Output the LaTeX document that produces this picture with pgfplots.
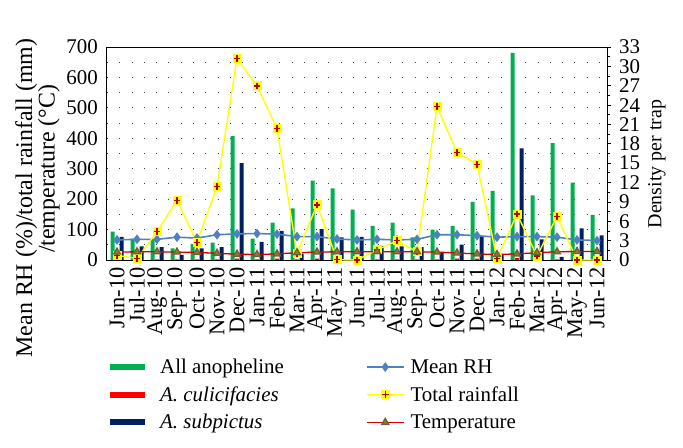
\documentclass[border=0pt]{standalone}
\usepackage{fontspec}
\setmainfont{Liberation Serif}
\usepackage{pgfplots}
\usepackage{pgfplotstable}
\pgfplotsset{compat=1.18}

\definecolor{anogreen}{RGB}{0,176,80}
\definecolor{culred}{RGB}{255,0,0}
\definecolor{subblue}{RGB}{0,32,96}
\definecolor{rhblue}{RGB}{79,129,189}
\definecolor{rainyel}{RGB}{255,255,0}
\definecolor{plusred}{RGB}{192,0,0}
\definecolor{tempred}{RGB}{210,0,0}
\definecolor{triolive}{RGB}{140,122,60}

% yellow square with a red plus, as the rainfall marker
\pgfdeclareplotmark{sqplus}{%
  \pgfpathrectangle{\pgfqpoint{-\pgfplotmarksize}{-\pgfplotmarksize}}{\pgfqpoint{2\pgfplotmarksize}{2\pgfplotmarksize}}%
  \pgfsetfillcolor{rainyel}\pgfusepath{fill}%
  \pgfpathmoveto{\pgfqpoint{-0.75\pgfplotmarksize}{0pt}}\pgfpathlineto{\pgfqpoint{0.75\pgfplotmarksize}{0pt}}%
  \pgfpathmoveto{\pgfqpoint{0pt}{-0.75\pgfplotmarksize}}\pgfpathlineto{\pgfqpoint{0pt}{0.75\pgfplotmarksize}}%
  \pgfsetstrokecolor{plusred}\pgfsetlinewidth{1.3pt}\pgfusepath{stroke}}

% idx, all anopheline, A. culicifacies, A. subpictus (per trap), RH, rainfall, temperature
\pgfplotstableread{
idx all  cul sub  rh rain temp
0   4.4  0.2 3.6  66 15   26
1   3.3  0.1 2.1  68 5    27
2   3.1  0.1 2.0  68 93   27
3   1.8  0.1 0.8  75 195  26
4   2.5  0.1 1.8  72 58   25
5   2.7  0.1 2.0  83 241  22
6   19.2 0.2 15.0 86 662  19
7   3.3  0.1 2.8  87 572  18
8   5.8  0.2 4.5  85 432  20
9   8.0  0.1 1.0  77 22   24
10  12.3 0.2 4.8  77 181  26
11  11.1 0.1 3.5  69 1    27
12  7.8  0.1 3.6  66 0    27
13  5.3  0.1 2.2  68 33   27
14  5.8  0.1 2.1  66 63   27
15  3.5  0.1 2.0  68 27   27
16  4.7  0.1 1.1  83 505  26
17  5.3  0.2 2.4  83 353  23
18  9.0  0.2 3.7  80 315  20
19  10.7 0.1 0.8  75 5    18
20  32.1 0.3 17.3 77 151  20
21  10.0 0.2 3.2  77 13   24
22  18.1 0.1 0.5  75 143  27
23  12.0 0.3 4.9  66 0    28
24  7.0  0.2 3.8  64 0    28
}\datatab

\begin{document}
\begin{tikzpicture}[font=\rmfamily\fontsize{21}{25}\selectfont]
\pgfplotsset{base/.style={scale only axis, width=500bp, height=213bp,
  xmin=-0.5, xmax=24.5, at={(0,0)}, anchor=south west,
  /pgf/number format/assume math mode=true}}

% left axis: frame, grid, month labels
\begin{axis}[base,
  ymin=0, ymax=700,
  ytick={0,100,...,700}, minor ytick={50,150,...,650},
  ymajorgrids, yminorgrids,
  major grid style={black!75, line width=0.9bp, dash pattern=on 1bp off 11.3bp},
  minor grid style={black!75, line width=0.9bp, dash pattern=on 1bp off 11.3bp},
  ytick pos=left, xtick pos=bottom,
  ytick style={draw=none}, xtick style={draw=none},
  xtick={0,...,24},
  xticklabels={Jun-10,Jul-10,Aug-10,Sep-10,Oct-10,Nov-10,Dec-10,Jan-11,Feb-11,Mar-11,Apr-11,May-11,Jun-11,Jul-11,Aug-11,Sep-11,Oct-11,Nov-11,Dec-11,Jan-12,Feb-12,Mar-12,Apr-12,May-12,Jun-12},
  xticklabel style={rotate=90, anchor=east, inner sep=1bp, xshift=-6bp, font=\fontsize{22.5}{25}\selectfont},
  yticklabel style={inner sep=1bp, xshift=-8bp},
  axis line style={black, line width=1bp},
  ylabel={Mean RH (\%)/total rainfall (mm)\\/temperature (°C)\rule{46bp}{0pt}},
  ylabel style={align=right, at={(axis description cs:-0.184,1.04)}, anchor=north east, inner sep=0pt,
    font=\fontsize{24}{21}\selectfont},
]
\coordinate (SW) at (rel axis cs:0,0);
\end{axis}

% right axis: mosquito densities
\begin{axis}[base,
  ymin=0, ymax=33, ytick={0,3,...,33}, minor tick num=1,
  axis y line*=right, axis x line=none,
  tick align=outside, ytick style={black, line width=0.8bp},
  major tick length=4bp, minor tick length=3bp,
  yticklabel style={inner sep=1bp, xshift=7bp},
  axis line style={black, line width=1bp},
  ylabel={Density per trap},
  ylabel style={at={(axis description cs:1.10,0.45)}, anchor=center, rotate=0,
    font=\fontsize{20}{24}\selectfont},
]
\addplot[ybar, bar width=4bp, bar shift=-4.5bp, fill=anogreen, draw=none] table[x=idx, y=all] {\datatab};
\addplot[ybar, bar width=4bp, bar shift=0bp, fill=culred, draw=none] table[x=idx, y=cul] {\datatab};
\addplot[ybar, bar width=4bp, bar shift=4.5bp, fill=subblue, draw=none] table[x=idx, y=sub] {\datatab};
\end{axis}

% weather lines and the legend
\begin{axis}[base, hide axis,
  ymin=0, ymax=700,
  legend columns=2,
  legend cell align=left,
  legend style={at={(axis description cs:0,-0.455)}, anchor=north west, draw=none, fill=none,
    inner sep=0pt, row sep=7.5bp, font=\fontsize{21}{25}\selectfont,
    nodes={inner sep=2bp},
    /tikz/column 1/.style={column sep=10bp},
    /tikz/column 2/.style={column sep=80bp},
    /tikz/column 3/.style={column sep=4bp}},
  legend image code/.code={\draw[mark repeat=2, mark phase=2, #1] plot coordinates {(0bp,0bp) (18.5bp,0bp) (37bp,0bp)};},
]
\addlegendimage{legend image code/.code={\draw[line width=6bp, anogreen] (0bp,0bp) -- (35bp,0bp);}}
\addlegendentry{All anopheline}
\addplot[rhblue, line width=1.6bp, mark=diamond*, mark size=3.6bp, mark options={fill=rhblue, draw=rhblue}] table[x=idx, y=rh] {\datatab};
\addlegendentry{Mean RH}
\addlegendimage{legend image code/.code={\draw[line width=6bp, culred] (0bp,0bp) -- (35bp,0bp);}}
\addlegendentry{\textit{A. culicifacies}}
\addplot[rainyel, line width=1.4bp, mark=sqplus, mark size=4.5bp] table[x=idx, y=rain] {\datatab};
\addlegendentry{Total rainfall}
\addlegendimage{legend image code/.code={\draw[line width=6bp, subblue] (0bp,0bp) -- (35bp,0bp);}}
\addlegendentry{\textit{A. subpictus}}
\addplot[tempred, line width=1.3bp, mark=triangle*, mark size=4bp, mark options={fill=triolive, draw=triolive!80!black}] table[x=idx, y=temp] {\datatab};
\addlegendentry{Temperature}
\end{axis}

\pgfresetboundingbox
\path[use as bounding box] ([shift={(-107bp,-188bp)}]SW) rectangle ++(683bp,448bp);
\end{tikzpicture}
\end{document}
